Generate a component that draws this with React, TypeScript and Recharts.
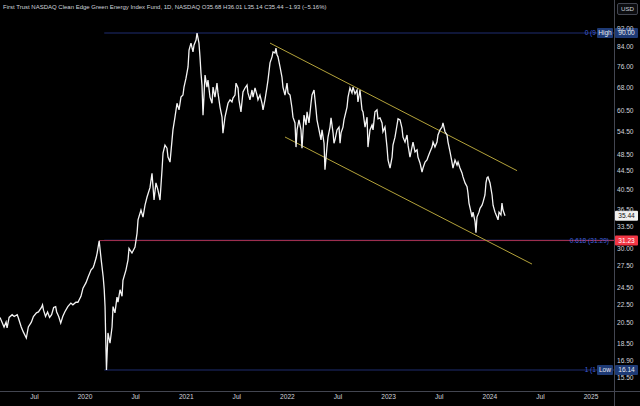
import { ComposedChart, Line, ReferenceLine, XAxis, YAxis } from 'recharts';

// QCLN daily, traced close values (decimal year, USD)
const times = [
  2019.16, 2019.18, 2019.2, 2019.22, 2019.23, 2019.25, 2019.28, 2019.3, 2019.33, 2019.34,
  2019.37, 2019.39, 2019.42, 2019.44, 2019.47, 2019.49, 2019.52, 2019.54, 2019.57, 2019.58,
  2019.59, 2019.61, 2019.63, 2019.65, 2019.67, 2019.69, 2019.71, 2019.72, 2019.74, 2019.76,
  2019.78, 2019.8, 2019.83, 2019.86, 2019.88, 2019.91, 2019.93, 2019.96, 2019.98, 2020.01,
  2020.03, 2020.06, 2020.08, 2020.09, 2020.11, 2020.12, 2020.14, 2020.16, 2020.18, 2020.19,
  2020.198, 2020.205, 2020.212, 2020.227, 2020.247, 2020.267, 2020.277, 2020.296, 2020.316, 2020.326,
  2020.346, 2020.366, 2020.375, 2020.405, 2020.425, 2020.435,
  2020.464, 2020.494, 2020.514, 2020.524, 2020.553, 2020.573, 2020.593, 2020.613, 2020.642, 2020.662,
  2020.682, 2020.701, 2020.721, 2020.741, 2020.761, 2020.771, 2020.79, 2020.81, 2020.82, 2020.84,
  2020.86, 2020.869, 2020.889, 2020.909, 2020.929, 2020.948, 2020.968, 2020.978, 2020.998, 2021.018,
  2021.028, 2021.047, 2021.067, 2021.077, 2021.097, 2021.107, 2021.126, 2021.136, 2021.146, 2021.156,
  2021.166, 2021.186, 2021.205, 2021.215, 2021.235, 2021.255, 2021.265, 2021.284, 2021.304, 2021.314,
  2021.334, 2021.354, 2021.363, 2021.383, 2021.403, 2021.413, 2021.433, 2021.452, 2021.462, 2021.482,
  2021.492, 2021.512, 2021.521, 2021.541, 2021.561, 2021.581, 2021.601, 2021.61, 2021.63, 2021.65,
  2021.66, 2021.68, 2021.699, 2021.709, 2021.729, 2021.749, 2021.759, 2021.778, 2021.798, 2021.808,
  2021.828, 2021.848, 2021.858, 2021.877, 2021.887, 2021.897, 2021.907, 2021.927, 2021.946, 2021.956,
  2021.976, 2021.996, 2022.006, 2022.026, 2022.045, 2022.055, 2022.075, 2022.085, 2022.095, 2022.114,
  2022.134, 2022.144, 2022.164, 2022.184, 2022.194, 2022.213, 2022.233, 2022.243, 2022.263, 2022.283,
  2022.292, 2022.312, 2022.332, 2022.342, 2022.362, 2022.371, 2022.391, 2022.401, 2022.421, 2022.431,
  2022.451, 2022.46, 2022.47, 2022.49, 2022.51, 2022.52, 2022.53, 2022.549, 2022.559, 2022.589,
  2022.599, 2022.618, 2022.638, 2022.648, 2022.668, 2022.688, 2022.697, 2022.717, 2022.737, 2022.747,
  2022.767, 2022.787, 2022.796, 2022.816, 2022.836, 2022.846, 2022.865, 2022.885, 2022.895, 2022.915,
  2022.935, 2022.944, 2022.964, 2022.984, 2022.994, 2023.014,
  2023.034, 2023.043, 2023.063, 2023.083, 2023.093, 2023.113, 2023.132, 2023.142, 2023.162, 2023.182,
  2023.192, 2023.211, 2023.231, 2023.241, 2023.261, 2023.281, 2023.29, 2023.31, 2023.33, 2023.34,
  2023.36, 2023.379, 2023.389, 2023.409, 2023.429, 2023.439, 2023.458, 2023.478, 2023.488, 2023.508,
  2023.528, 2023.537, 2023.557, 2023.577, 2023.587, 2023.607, 2023.626, 2023.636, 2023.656, 2023.676,
  2023.686, 2023.705, 2023.725, 2023.735, 2023.755, 2023.775, 2023.784, 2023.794, 2023.814, 2023.824,
  2023.834, 2023.854, 2023.863, 2023.873, 2023.893, 2023.903, 2023.923, 2023.933, 2023.952, 2023.962,
  2023.972, 2023.982, 2024.002, 2024.022, 2024.032, 2024.051, 2024.071, 2024.081, 2024.091, 2024.11,
  2024.12, 2024.13, 2024.15
];

const prices = [
  21.1, 20.6, 20.1, 20.6, 20.0, 21.1, 21.4, 21.2, 21.4, 21.1,
  20.1, 19.6, 19.0, 20.1, 20.6, 21.2, 21.6, 21.7, 22.2, 22.5,
  21.9, 21.2, 21.7, 21.1, 21.4, 22.2, 22.3, 21.7, 21.2, 20.5,
  21.2, 21.7, 22.3, 22.7, 22.5, 22.8, 22.8, 23.5, 24.5, 25.2,
  25.9, 26.9, 27.2, 27.6, 28.6, 29.3, 31.2, 28.3, 25.9, 24.3,
  22.3, 18.8, 16.14, 19.5, 18.5, 20.1, 22.3, 21.6, 23.4, 22.8,
  24.3, 23.5, 25.5, 26.9, 28.3, 30.0,
  29.3, 30.2, 32.4, 34.7, 36.5, 35.2, 37.4, 39.0, 40.9, 44.0,
  38.4, 41.9, 40.4, 38.4, 44.8, 48.8, 50.8, 50.0, 47.8, 46.6,
  52.2, 54.9, 58.6, 62.9, 60.8, 64.9, 65.6, 68.3, 71.5, 75.7,
  82.5, 85.5, 81.7, 84.6, 86.8, 90.0, 85.5, 79.7, 73.3, 69.0,
  59.2, 72.6, 68.3, 70.8, 64.9, 62.9, 68.3, 64.9, 69.7, 66.3,
  61.7, 58.6, 54.0, 58.6, 61.4, 62.9, 64.0, 63.3, 64.6, 65.6,
  69.7, 68.0, 64.0, 60.2, 66.6, 68.0, 69.0, 66.3, 64.0, 67.3,
  64.9, 68.0, 65.6, 64.0, 65.6, 62.9, 60.8, 64.0, 68.3, 70.8,
  77.3, 79.7, 81.7, 81.3, 83.3, 80.5, 79.7, 75.7, 71.9, 68.3,
  65.6, 69.7, 66.3, 65.6, 61.4, 58.6, 56.9, 50.3, 54.9, 57.8,
  54.9, 50.0, 59.2, 56.3, 60.2, 56.9, 62.9, 65.6, 67.3, 60.8,
  57.8, 54.9, 52.2, 54.9, 51.3, 44.8, 50.3, 52.9, 55.7, 58.4,
  54.1, 51.3, 52.2, 54.9, 55.7, 51.3, 54.1, 55.7, 57.8, 61.7,
  64.9, 68.0, 66.3, 68.3, 66.0, 67.3, 63.3, 67.3, 60.8, 60.2,
  55.7, 58.6, 50.3, 54.9, 56.3, 54.9, 60.2, 60.8, 58.1, 58.4,
  56.9, 54.4, 55.7, 50.3, 47.1, 45.2,
  47.8, 50.8, 52.9, 56.3, 58.1, 57.8, 55.4, 52.9, 51.6, 53.5,
  50.8, 47.8, 50.3, 51.6, 49.1, 49.6, 47.8, 46.4, 44.3, 45.2,
  46.6, 47.1, 47.8, 49.1, 50.3, 51.6, 50.3, 51.6, 53.5, 54.9,
  55.7, 56.9, 54.4, 53.5, 51.6, 49.1, 46.6, 45.2, 47.1, 45.9,
  46.6, 45.2, 44.1, 43.2, 41.9, 41.1, 39.8, 37.8, 36.1, 35.2,
  36.1, 34.4, 32.5, 35.2, 36.1, 36.8, 37.4, 38.0, 39.4, 41.9,
  43.0, 43.2, 41.9, 39.4, 37.4, 36.1, 35.2, 34.7, 36.1, 35.6,
  37.8, 36.5, 35.44
];

const yearTicks = [2019.5, 2020, 2020.5, 2021, 2021.5, 2022, 2022.5, 2023, 2023.5, 2024, 2024.5, 2025];
const priceTicks = [92, 84, 76, 68, 60.5, 54.5, 48.5, 44.5, 40.5, 36.5, 33.5, 30, 27.5, 24.5, 22.5, 20.5, 18.5, 16.9, 15.5];

// descending channel drawn on the chart
const upperChannel = [{ t: 2021.828, p: 85.5 }, { t: 2024.269, p: 44.6 }];
const lowerChannel = [{ t: 2021.976, p: 52.96 }, { t: 2024.417, p: 27.7 }];

// fib retracement levels and price tags
const fibStart = 2020.19;
const fibHigh = 90;
const fib618 = 31.29;
const fibLow = 16.14;
const prevHigh = 31.23;
const prevHighStart = 2020.14;
const lastPrice = 35.44;

const xDomain = [2019.16, 2025.227];
const yDomain = [14.5, 106.5];

const rows = times.map((t, i) => ({ t, price: prices[i] }));

const FONT = '"Liberation Sans", Arial, sans-serif';
const AXIS_TEXT = '#d1d4dc';
const FIB_TEXT = '#3f5fd8';
const FIB_LINE = '#1f2d70';
const TAG_BLUE = '#1e3a75';

function Tag({ x, y, w, text, bg, color }: { x: number; y: number; w: number; text: string; bg: string; color: string }) {
  return (
    <g>
      <rect x={x} y={y - 5} width={w} height={10} rx={1} fill={bg} />
      <text
        x={x + w / 2}
        y={y + 0.5}
        textAnchor="middle"
        dominantBaseline="middle"
        fontSize={6.6}
        fontFamily={FONT}
        fill={color}
      >
        {text}
      </text>
    </g>
  );
}

// right-edge label for a horizontal level: fib text, name tag, price tag on the axis
function levelLabel(opts: { text?: string; textGap?: number; name?: string; price?: string; bg?: string; color?: string }) {
  return (props: any) => {
    const vb = props.viewBox;
    if (!vb) return null;
    const right = vb.x + vb.width;
    const y = vb.y;
    return (
      <g>
        {opts.text && (
          <text
            x={right - (opts.textGap ?? 2)}
            y={y + 0.5}
            textAnchor="end"
            dominantBaseline="middle"
            fontSize={6.6}
            fontFamily={FONT}
            fill={FIB_TEXT}
          >
            {opts.text}
          </text>
        )}
        {opts.name && <Tag x={right - 17} y={y} w={16} text={opts.name} bg={TAG_BLUE} color="#e6e9f0" />}
        {opts.price && <Tag x={right + 1} y={y} w={23} text={opts.price} bg={opts.bg ?? TAG_BLUE} color={opts.color ?? '#e6e9f0'} />}
      </g>
    );
  };
}

export default function App() {
  return (
    <div style={{ position: 'relative', width: 640, height: 406, background: '#000', overflow: 'hidden' }}>
      <style>{'body{margin:0;background:#000}'}</style>
      <ComposedChart width={640} height={406} data={rows} margin={{ top: 0, right: 0, bottom: 0, left: 0 }}>
        <XAxis
          dataKey="t"
          type="number"
          domain={xDomain}
          allowDataOverflow
          ticks={yearTicks}
          interval={0}
          tickFormatter={(v: number) => (Number.isInteger(v) ? String(v) : 'Jul')}
          height={15}
          axisLine={false}
          tickLine={false}
          tickSize={2}
          tickMargin={1}
          tick={{ fill: AXIS_TEXT, fontSize: 6.6, fontFamily: FONT }}
        />
        <YAxis
          orientation="right"
          width={26}
          scale="log"
          domain={yDomain}
          allowDataOverflow
          ticks={priceTicks}
          interval={0}
          tickFormatter={(v: number) => v.toFixed(2)}
          axisLine={false}
          tickLine={false}
          tickSize={3}
          tickMargin={0}
          tick={{ fill: AXIS_TEXT, fontSize: 6.6, fontFamily: FONT, textAnchor: 'start' }}
        />
        <ReferenceLine
          segment={[{ x: fibStart, y: fibHigh }, { x: xDomain[1], y: fibHigh }]}
          stroke={FIB_LINE}
          label={levelLabel({ text: '0 (9', textGap: 18, name: 'High', price: fibHigh.toFixed(2) })}
        />
        <ReferenceLine
          segment={[{ x: fibStart, y: fib618 }, { x: xDomain[1], y: fib618 }]}
          stroke={FIB_LINE}
        />
        <ReferenceLine
          segment={[{ x: prevHighStart, y: prevHigh }, { x: xDomain[1], y: prevHigh }]}
          stroke="#a3304f"
          label={levelLabel({ text: '0.618 (31.29)', textGap: 5, price: prevHigh.toFixed(2), bg: '#f23645', color: '#ffffff' })}
        />
        <ReferenceLine
          segment={[{ x: fibStart, y: fibLow }, { x: xDomain[1], y: fibLow }]}
          stroke={FIB_LINE}
          label={levelLabel({ text: '1 (1', textGap: 18, name: 'Low', price: fibLow.toFixed(2) })}
        />
        <ReferenceLine
          segment={[{ x: xDomain[1] - 0.01, y: lastPrice }, { x: xDomain[1], y: lastPrice }]}
          stroke="none"
          label={levelLabel({ price: lastPrice.toFixed(2), bg: '#f0f0f0', color: '#111111' })}
        />
        <ReferenceLine
          segment={[{ x: upperChannel[0].t, y: upperChannel[0].p }, { x: upperChannel[1].t, y: upperChannel[1].p }]}
          stroke="#b3a23a"
        />
        <ReferenceLine
          segment={[{ x: lowerChannel[0].t, y: lowerChannel[0].p }, { x: lowerChannel[1].t, y: lowerChannel[1].p }]}
          stroke="#b3a23a"
        />
        <Line
          dataKey="price"
          type="linear"
          stroke="#f4f4f4"
          strokeWidth={1.3}
          dot={false}
          activeDot={false}
          isAnimationActive={false}
        />
      </ComposedChart>

      <div style={{ position: 'absolute', left: 614, top: 0, width: 1, height: 406, background: '#434651' }} />
      <div style={{ position: 'absolute', left: 0, top: 391, width: 640, height: 1, background: '#434651' }} />
      <div
        style={{
          position: 'absolute',
          left: 3,
          top: 4,
          fontFamily: FONT,
          fontSize: 6,
          color: AXIS_TEXT,
          whiteSpace: 'pre'
        }}
      >
        {'First Trust NASDAQ Clean Edge Green Energy Index Fund, 1D, NASDAQ O35.68 H36.01 L35.14 C35.44 −1.93 (−5.16%)'}
      </div>
      <div
        style={{
          position: 'absolute',
          left: 617,
          top: 3,
          width: 19,
          height: 10,
          border: '1px solid #434651',
          borderRadius: 2,
          background: '#0c0d10',
          fontFamily: FONT,
          fontSize: 6.2,
          lineHeight: '10px',
          textAlign: 'center',
          color: AXIS_TEXT
        }}
      >
        USD
      </div>
    </div>
  );
}
